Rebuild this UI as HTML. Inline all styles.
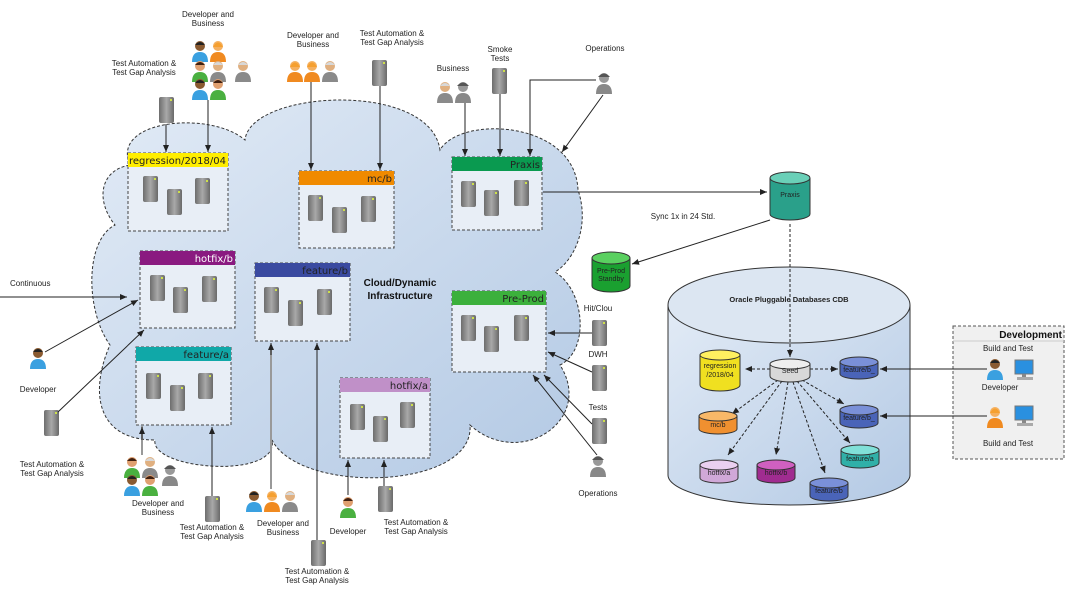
<!DOCTYPE html>
<html><head><meta charset="utf-8"><style>
html,body{margin:0;padding:0;background:#fff}
svg{display:block}
text{font-family:"Liberation Sans",sans-serif}
.l{font-size:8px;fill:#222;text-anchor:middle}
.h{font-size:10px;fill:#222;text-anchor:end;font-family:"DejaVu Sans",sans-serif}
.ln{stroke:#222;stroke-width:1;fill:none}
</style></head><body>
<svg width="1076" height="596" viewBox="0 0 1076 596" xmlns="http://www.w3.org/2000/svg">
<defs>
<linearGradient id="cg" x1="0" y1="0" x2="1" y2="1"><stop offset="0" stop-color="#e2ebf6"/><stop offset="1" stop-color="#b3c9e4"/></linearGradient>
<linearGradient id="sg" x1="0" x2="1"><stop offset="0" stop-color="#6d6d6d"/><stop offset=".5" stop-color="#a9a9a9"/><stop offset="1" stop-color="#6a6a6a"/></linearGradient>
<marker id="a" markerWidth="8" markerHeight="8" refX="7" refY="4" orient="auto" markerUnits="userSpaceOnUse"><path d="M0,1 L7,4 L0,7 Z" fill="#222"/></marker>
<g id="srv"><rect x="0" y="0" width="15" height="26" rx="2" fill="url(#sg)"/><rect x="11" y="2" width="2" height="2" fill="#cde04a"/></g>
<g id="ps"><circle cx="8" cy="6" r="5" fill="#e0b080"/><path d="M0,22 Q0,12 8,12 Q16,12 16,22 Z" fill="#8a8a8a"/><path d="M3,5 Q8,-1 13,5 Z" fill="#d8d8d8"/></g>
<g id="pb"><circle cx="8" cy="6" r="5" fill="#8a5a30"/><path d="M0,22 Q0,12 8,12 Q16,12 16,22 Z" fill="#3aa0e0"/><path d="M3,5 Q8,-1 13,5 Z" fill="#222"/></g>
<g id="po"><circle cx="8" cy="6" r="5" fill="#f5b060"/><path d="M0,22 Q0,12 8,12 Q16,12 16,22 Z" fill="#f08a20"/><path d="M3,7 Q8,-2 13,7 Z" fill="#f5a030"/></g>
<g id="pg"><circle cx="8" cy="6" r="5" fill="#e0a070"/><path d="M0,22 Q0,12 8,12 Q16,12 16,22 Z" fill="#4ab040"/><path d="M3,5 Q8,-1 13,5 Z" fill="#402010"/></g>
<g id="pk"><circle cx="8" cy="6" r="5" fill="#999"/><path d="M0,22 Q0,12 8,12 Q16,12 16,22 Z" fill="#888"/><path d="M2,5 Q8,-2 14,5 Z" fill="#555"/></g>
<g id="pc"><rect x="0" y="0" width="18" height="14" fill="#2a90e0" stroke="#777"/><rect x="7" y="14" width="4" height="3" fill="#888"/><rect x="2" y="17" width="16" height="3" fill="#aaa"/></g>
</defs>

<!-- cloud -->
<path d="M130 165 C110 120,210 110,245 140 C250 90,430 80,440 150 C460 115,575 120,578 190 C590 225,575 260,555 272 C585 290,590 350,560 365 C595 420,520 470,470 425 C475 490,300 495,272 440 C280 480,150 470,155 440 C95 440,90 390,110 345 C85 310,85 240,115 225 C95 200,100 170,130 165 Z" fill="url(#cg)" stroke="#333" stroke-dasharray="3,2" stroke-width="1"/>
<text x="400" y="286" font-size="10" font-weight="bold" text-anchor="middle" fill="#111">Cloud/Dynamic</text>
<text x="400" y="299" font-size="10" font-weight="bold" text-anchor="middle" fill="#111">Infrastructure</text>

<!-- boxes -->
<g stroke="#444" stroke-dasharray="3,2">
<rect x="128" y="153" width="100" height="78" fill="#e8eef6"/>
<rect x="299" y="171" width="95" height="77" fill="#e8eef6"/>
<rect x="452" y="157" width="90" height="73" fill="#e8eef6"/>
<rect x="140" y="251" width="95" height="77" fill="#e8eef6"/>
<rect x="255" y="263" width="95" height="78" fill="#e8eef6"/>
<rect x="452" y="291" width="94" height="81" fill="#e8eef6"/>
<rect x="136" y="347" width="95" height="78" fill="#e8eef6"/>
<rect x="340" y="378" width="90" height="80" fill="#e8eef6"/>
</g>
<rect x="128" y="153" width="100" height="14" fill="#ffee00"/><text class="h" x="226" y="164">regression/2018/04</text>
<rect x="299" y="171" width="95" height="14" fill="#f08a00"/><text class="h" x="392" y="182">mc/b</text>
<rect x="452" y="157" width="90" height="14" fill="#0a9a50"/><text class="h" x="540" y="168">Praxis</text>
<rect x="140" y="251" width="95" height="14" fill="#8a1a80"/><text class="h" x="233" y="262" style="fill:#fff">hotfix/b</text>
<rect x="255" y="263" width="95" height="14" fill="#3a4aa0"/><text class="h" x="348" y="274">feature/b</text>
<rect x="452" y="291" width="94" height="14" fill="#3cb03c"/><text class="h" x="544" y="302">Pre-Prod</text>
<rect x="136" y="347" width="95" height="14" fill="#10a8a8"/><text class="h" x="229" y="358">feature/a</text>
<rect x="340" y="378" width="90" height="14" fill="#c090c8"/><text class="h" x="428" y="389">hotfix/a</text>

<!-- servers in boxes -->
<g>
<use href="#srv" x="143" y="176"/><use href="#srv" x="167" y="189"/><use href="#srv" x="195" y="178"/>
<use href="#srv" x="308" y="195"/><use href="#srv" x="332" y="207"/><use href="#srv" x="361" y="196"/>
<use href="#srv" x="461" y="181"/><use href="#srv" x="484" y="190"/><use href="#srv" x="514" y="180"/>
<use href="#srv" x="150" y="275"/><use href="#srv" x="173" y="287"/><use href="#srv" x="202" y="276"/>
<use href="#srv" x="264" y="287"/><use href="#srv" x="288" y="300"/><use href="#srv" x="317" y="289"/>
<use href="#srv" x="461" y="315"/><use href="#srv" x="484" y="326"/><use href="#srv" x="514" y="315"/>
<use href="#srv" x="146" y="373"/><use href="#srv" x="170" y="385"/><use href="#srv" x="198" y="373"/>
<use href="#srv" x="350" y="404"/><use href="#srv" x="373" y="416"/><use href="#srv" x="400" y="402"/>
</g>

<!-- top actors -->
<text class="l" x="208" y="17">Developer and</text><text class="l" x="208" y="26">Business</text>
<use href="#pb" x="192" y="40"/><use href="#po" x="210" y="40"/><use href="#pg" x="192" y="60"/><use href="#ps" x="210" y="60"/><use href="#ps" x="235" y="60"/><use href="#pb" x="192" y="78"/><use href="#pg" x="210" y="78"/>
<text class="l" x="144" y="66">Test Automation &amp;</text><text class="l" x="144" y="75">Test Gap Analysis</text>
<use href="#srv" x="159" y="97"/>
<line class="ln" x1="166" y1="124" x2="166" y2="152" marker-end="url(#a)"/>
<line class="ln" x1="208" y1="100" x2="208" y2="152" marker-end="url(#a)"/>
<text class="l" x="313" y="38">Developer and</text><text class="l" x="313" y="47">Business</text>
<use href="#po" x="287" y="60"/><use href="#po" x="304" y="60"/><use href="#ps" x="322" y="60"/>
<line class="ln" x1="311" y1="82" x2="311" y2="170" marker-end="url(#a)"/>
<text class="l" x="392" y="36">Test Automation &amp;</text><text class="l" x="392" y="45">Test Gap Analysis</text>
<use href="#srv" x="372" y="60"/>
<line class="ln" x1="380" y1="86" x2="380" y2="170" marker-end="url(#a)"/>
<text class="l" x="453" y="71">Business</text>
<use href="#ps" x="437" y="81"/><use href="#pk" x="455" y="81"/>
<line class="ln" x1="465" y1="103" x2="465" y2="156" marker-end="url(#a)"/>
<text class="l" x="500" y="52">Smoke</text><text class="l" x="500" y="61">Tests</text>
<use href="#srv" x="492" y="68"/>
<line class="ln" x1="500" y1="94" x2="500" y2="156" marker-end="url(#a)"/>
<text class="l" x="605" y="51">Operations</text>
<use href="#pk" x="596" y="72"/>
<path class="ln" d="M596 80 L530 80 L530 156" marker-end="url(#a)"/>
<line class="ln" x1="603" y1="95" x2="562" y2="152" marker-end="url(#a)"/>

<!-- left -->
<text x="10" y="286" font-size="8" fill="#222">Continuous</text>
<line class="ln" x1="0" y1="297" x2="127" y2="297" marker-end="url(#a)"/>
<use href="#pb" x="30" y="347"/>
<text class="l" x="38" y="392">Developer</text>
<line class="ln" x1="45" y1="352" x2="138" y2="300" marker-end="url(#a)"/>
<use href="#srv" x="44" y="410"/>
<text class="l" x="52" y="467">Test Automation &amp;</text><text class="l" x="52" y="476">Test Gap Analysis</text>
<line class="ln" x1="58" y1="412" x2="144" y2="330" marker-end="url(#a)"/>

<!-- bottom -->
<use href="#pg" x="124" y="456"/><use href="#ps" x="142" y="456"/><use href="#pk" x="162" y="464"/><use href="#pb" x="124" y="474"/><use href="#pg" x="142" y="474"/>
<line x1="142" y1="455" x2="142" y2="426" stroke="#999" stroke-width="2"/>
<line class="ln" x1="142" y1="440" x2="142" y2="427" marker-end="url(#a)"/>
<text class="l" x="158" y="506">Developer and</text><text class="l" x="158" y="515">Business</text>
<use href="#srv" x="205" y="496"/>
<line class="ln" x1="212" y1="496" x2="212" y2="427" marker-end="url(#a)"/>
<text class="l" x="212" y="530">Test Automation &amp;</text><text class="l" x="212" y="539">Test Gap Analysis</text>
<use href="#pb" x="246" y="490"/><use href="#po" x="264" y="490"/><use href="#ps" x="282" y="490"/>
<line x1="271" y1="489" x2="271" y2="345" stroke="#999" stroke-width="2"/>
<line class="ln" x1="271" y1="355" x2="271" y2="343" marker-end="url(#a)"/>
<text class="l" x="283" y="526">Developer and</text><text class="l" x="283" y="535">Business</text>
<use href="#srv" x="311" y="540"/>
<line class="ln" x1="317" y1="540" x2="317" y2="343" marker-end="url(#a)"/>
<text class="l" x="317" y="574">Test Automation &amp;</text><text class="l" x="317" y="583">Test Gap Analysis</text>
<use href="#pg" x="340" y="496"/>
<line class="ln" x1="348" y1="495" x2="348" y2="460" marker-end="url(#a)"/>
<text class="l" x="348" y="534">Developer</text>
<use href="#srv" x="378" y="486"/>
<line class="ln" x1="384" y1="486" x2="384" y2="460" marker-end="url(#a)"/>
<text class="l" x="416" y="525">Test Automation &amp;</text><text class="l" x="416" y="534">Test Gap Analysis</text>

<!-- right of cloud -->
<text class="l" x="598" y="311">Hit/Clou</text>
<use href="#srv" x="592" y="320"/>
<line class="ln" x1="592" y1="333" x2="548" y2="333" marker-end="url(#a)"/>
<text class="l" x="598" y="357">DWH</text>
<use href="#srv" x="592" y="365"/>
<line class="ln" x1="592" y1="372" x2="548" y2="352" marker-end="url(#a)"/>
<text class="l" x="598" y="410">Tests</text>
<use href="#srv" x="592" y="418"/>
<line class="ln" x1="592" y1="424" x2="544" y2="375" marker-end="url(#a)"/>
<use href="#pk" x="590" y="455"/>
<line class="ln" x1="597" y1="455" x2="533" y2="375" marker-end="url(#a)"/>
<text class="l" x="598" y="496">Operations</text>

<!-- Praxis DB -->
<line class="ln" x1="543" y1="192" x2="767" y2="192" marker-end="url(#a)"/>
<path d="M770,178 v36 a20,6 0 0 0 40,0 v-36" fill="#2aa08a" stroke="#333"/>
<ellipse cx="790" cy="178" rx="20" ry="6" fill="#6ad0b8" stroke="#333"/>
<text x="790" y="197" font-size="7" text-anchor="middle" fill="#222">Praxis</text>
<text class="l" x="683" y="219">Sync 1x in 24 Std.</text>
<line class="ln" x1="770" y1="220" x2="632" y2="264" marker-end="url(#a)"/>
<path d="M592,258 v28 a19,6 0 0 0 38,0 v-28" fill="#1aa030" stroke="#333"/>
<ellipse cx="611" cy="258" rx="19" ry="6" fill="#5ad060" stroke="#333"/>
<text x="611" y="273" font-size="7" text-anchor="middle" fill="#222">Pre-Prod</text><text x="611" y="281" font-size="7" text-anchor="middle" fill="#222">Standby</text>

<!-- CDB -->
<path d="M668,305 V475 A121,30 0 0 0 910,475 V305" fill="url(#cg)" stroke="#333"/>
<ellipse cx="789" cy="305" rx="121" ry="38" fill="#dce6f2" stroke="#333"/>
<text x="789" y="302" font-size="7.5" font-weight="bold" text-anchor="middle" fill="#222">Oracle Pluggable Databases CDB</text>
<line class="ln" x1="790" y1="224" x2="790" y2="357" stroke-dasharray="3,2" marker-end="url(#a)"/>
<g stroke="#222" stroke-dasharray="3,2" fill="none">
<line x1="770" y1="369" x2="745" y2="369" marker-end="url(#a)"/>
<line x1="810" y1="369" x2="838" y2="369" marker-end="url(#a)"/>
<line x1="778" y1="380" x2="732" y2="414" marker-end="url(#a)"/>
<line x1="782" y1="381" x2="728" y2="455" marker-end="url(#a)"/>
<line x1="788" y1="382" x2="776" y2="455" marker-end="url(#a)"/>
<line x1="793" y1="382" x2="825" y2="473" marker-end="url(#a)"/>
<line x1="797" y1="381" x2="850" y2="443" marker-end="url(#a)"/>
<line x1="802" y1="380" x2="844" y2="404" marker-end="url(#a)"/>
</g>
<g font-size="7" text-anchor="middle" fill="#222" stroke="#333">
<path d="M770,364 v12 a20,6 0 0 0 40,0 v-12" fill="#d8d8d8"/><ellipse cx="790" cy="364" rx="20" ry="5" fill="#eee"/><text x="790" y="373" stroke="none">Seed</text>
<path d="M700,355 v30 a20,6 0 0 0 40,0 v-30" fill="#f0e020"/><ellipse cx="720" cy="355" rx="20" ry="5" fill="#fff060"/><text x="720" y="368" stroke="none">regression</text><text x="720" y="377" stroke="none">/2018/04</text>
<path d="M840,362 v12 a19,5 0 0 0 38,0 v-12" fill="#4a64b8"/><ellipse cx="859" cy="362" rx="19" ry="5" fill="#7a90d8"/><text x="859" y="372" stroke="none">feature/b_</text>
<path d="M699,416 v13 a19,5 0 0 0 38,0 v-13" fill="#f09030"/><ellipse cx="718" cy="416" rx="19" ry="5" fill="#f8b868"/><text x="718" y="427" stroke="none">mc/b</text>
<path d="M840,410 v13 a19,5 0 0 0 38,0 v-13" fill="#4a64b8"/><ellipse cx="859" cy="410" rx="19" ry="5" fill="#7a90d8"/><text x="859" y="420" stroke="none">feature/b_</text>
<path d="M841,450 v13 a19,5 0 0 0 38,0 v-13" fill="#30b0a8"/><ellipse cx="860" cy="450" rx="19" ry="5" fill="#80e0d8"/><text x="860" y="461" stroke="none">feature/a</text>
<path d="M700,465 v13 a19,5 0 0 0 38,0 v-13" fill="#d0a8d8"/><ellipse cx="719" cy="465" rx="19" ry="5" fill="#ead0f0"/><text x="719" y="475" stroke="none">hotfix/a</text>
<path d="M757,465 v13 a19,5 0 0 0 38,0 v-13" fill="#a02c90"/><ellipse cx="776" cy="465" rx="19" ry="5" fill="#d060c0"/><text x="776" y="475" stroke="none">hotfix/b</text>
<path d="M810,483 v13 a19,5 0 0 0 38,0 v-13" fill="#4a64b8"/><ellipse cx="829" cy="483" rx="19" ry="5" fill="#7a90d8"/><text x="829" y="493" stroke="none">feature/b</text>
</g>

<!-- Development -->
<rect x="953" y="326" width="111" height="133" fill="#f0f0f0" stroke="#555" stroke-dasharray="3,2"/>
<text x="1062" y="338" font-size="10" font-weight="bold" text-anchor="end" fill="#111">Development</text>
<line x1="953" y1="341" x2="1064" y2="341" stroke="#ccc"/>
<text class="l" x="1008" y="351">Build and Test</text>
<use href="#pb" x="987" y="358"/><use href="#pc" x="1015" y="360"/>
<text class="l" x="1000" y="390">Developer</text>
<use href="#po" x="987" y="406"/><use href="#pc" x="1015" y="406"/>
<text class="l" x="1008" y="446">Build and Test</text>
<line class="ln" x1="987" y1="369" x2="880" y2="369" marker-end="url(#a)"/>
<line class="ln" x1="987" y1="416" x2="880" y2="416" marker-end="url(#a)"/>
</svg>
</body></html>
